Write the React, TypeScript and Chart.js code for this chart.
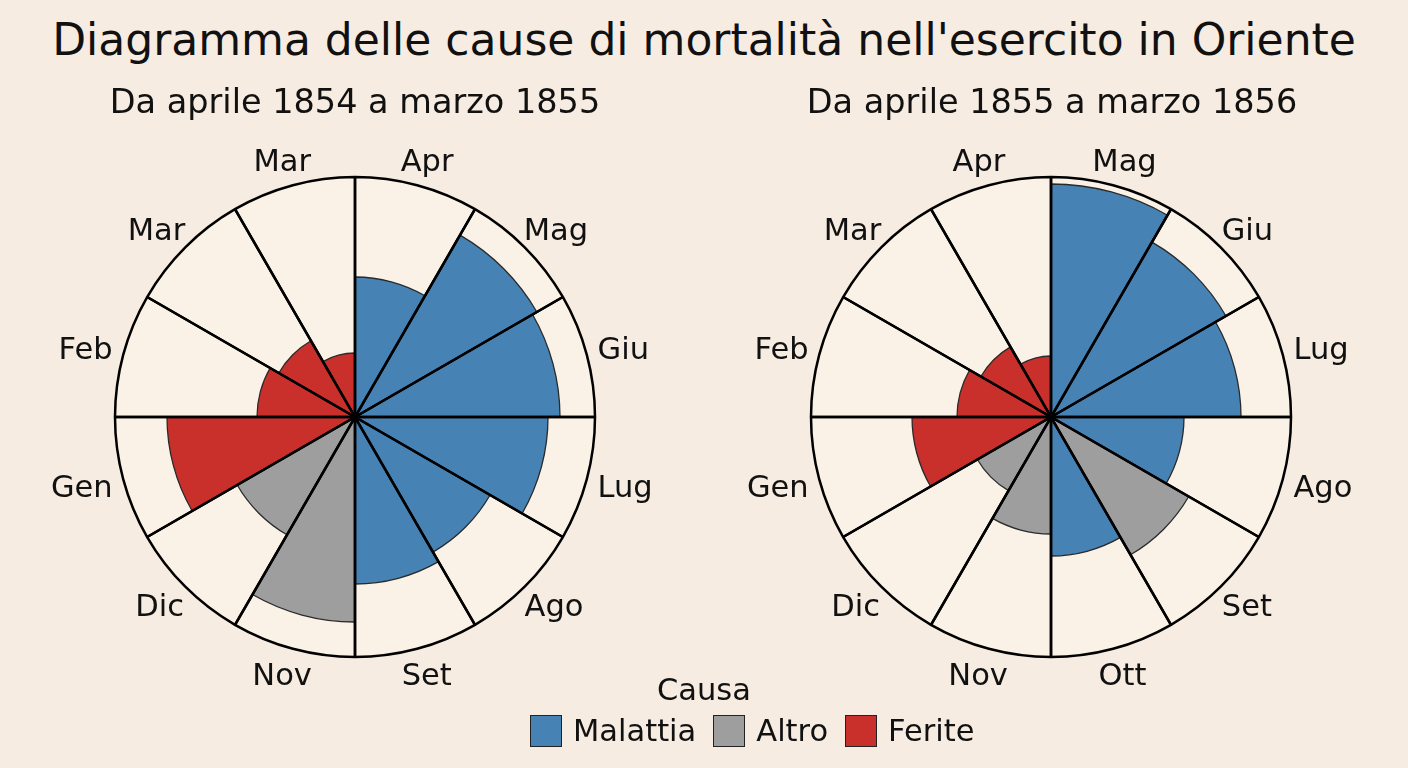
import React, { useEffect, useRef } from "react";
import { Chart, registerables } from "chart.js";

Chart.register(...registerables);

// Outer radius of every wedge (value at the rim of each rose)
const scaleMax = 240;

// Apr 1854 – Mar 1855
const months1854 = ["Apr", "Mag", "Giu", "Lug", "Ago", "Set", "Nov", "Dic", "Gen", "Feb", "Mar", "Mar"];
const values1854 = [140, 210, 205, 193, 156, 167, 205, 136, 188, 98, 88, 64];
const causes1854 = ["Malattia", "Malattia", "Malattia", "Malattia", "Malattia", "Malattia", "Altro", "Altro", "Ferite", "Ferite", "Ferite", "Ferite"];

// Apr 1855 – Mar 1856
const months1855 = ["Mag", "Giu", "Lug", "Ago", "Set", "Ott", "Nov", "Dic", "Gen", "Feb", "Mar", "Apr"];
const values1855 = [233, 202, 190, 133, 159, 139, 117, 85, 139, 94, 81, 61];
const causes1855 = ["Malattia", "Malattia", "Malattia", "Malattia", "Altro", "Malattia", "Altro", "Altro", "Ferite", "Ferite", "Ferite", "Ferite"];

const causeNames = ["Malattia", "Altro", "Ferite"];
const causeColors: Record<string, string> = {
  Malattia: "#4682b4",
  Altro: "#9e9e9e",
  Ferite: "#c9302c",
};

const FONT = '"DejaVu Sans", "Liberation Sans", sans-serif';
const BG = "#f7ece1";
const WEDGE_FILL = "#faf1e7";
const CANVAS_SIZE = 680;
const PAD = 100;
const LABEL_SIZE = 30.5;
const LABEL_GAP = 12;

// Month names placed beside the rim, centred on each wedge's mid-angle
const centredMonthLabels = {
  id: "centredMonthLabels",
  afterDatasetsDraw(chart: any) {
    const scale = chart.scales.r;
    const labels: string[] = chart.data.labels;
    const n = labels.length;
    const ctx = chart.ctx;
    ctx.save();
    ctx.font = `${LABEL_SIZE}px ${FONT}`;
    ctx.fillStyle = "#111";
    ctx.textAlign = "center";
    ctx.textBaseline = "alphabetic";
    const half = Math.PI / n;
    const capHalf = (0.729 * LABEL_SIZE) / 2;
    labels.forEach((lab, i) => {
      const theta = scale.getIndexAngle(i) + half;
      const anchor = scale.getPointPosition(i, scale.drawingArea + LABEL_GAP, half);
      const halfW = ctx.measureText(lab).width / 2;
      const cx = anchor.x + Math.sin(theta) * halfW;
      const cy = anchor.y - Math.cos(theta) * 14;
      ctx.fillText(lab, cx, cy + capHalf);
    });
    ctx.restore();
  },
};

function Rose({ months, values, causes, left }: { months: string[]; values: number[]; causes: string[]; left: number }) {
  const ref = useRef<HTMLCanvasElement>(null);
  useEffect(() => {
    const canvas = ref.current!;
    const chart = new Chart(canvas, {
      type: "polarArea",
      data: {
        labels: months,
        datasets: [
          {
            // black wedge outlines on top
            data: months.map(() => scaleMax),
            backgroundColor: "rgba(0,0,0,0)",
            borderColor: "#000",
            borderWidth: 2.5,
            order: 0,
          },
          {
            data: values,
            backgroundColor: causes.map((c) => causeColors[c]),
            borderColor: "#2a2a2a",
            borderWidth: 1.3,
            order: 1,
          },
          {
            // pale wedge fill underneath
            data: months.map(() => scaleMax),
            backgroundColor: WEDGE_FILL,
            borderWidth: 0,
            order: 2,
          },
        ],
      },
      options: {
        responsive: false,
        animation: false,
        events: [],
        layout: { padding: PAD },
        scales: {
          r: {
            min: 0,
            max: scaleMax,
            startAngle: 0,
            ticks: { display: false },
            grid: { display: false },
            angleLines: { display: false },
            pointLabels: { display: false },
          },
        },
        plugins: {
          legend: { display: false },
          tooltip: { enabled: false },
          title: { display: false },
        },
      },
      plugins: [centredMonthLabels],
    });
    return () => chart.destroy();
  }, []);
  return (
    <canvas
      ref={ref}
      width={CANVAS_SIZE}
      height={CANVAS_SIZE}
      style={{ position: "absolute", left, top: 77, width: CANVAS_SIZE, height: CANVAS_SIZE }}
    />
  );
}

export default function App() {
  return (
    <div style={{ position: "fixed", left: 0, top: 0, width: 1408, height: 768, background: BG, fontFamily: FONT, color: "#111", overflow: "hidden" }}>
      <Rose months={months1854} values={values1854} causes={causes1854} left={355 - CANVAS_SIZE / 2} />
      <Rose months={months1855} values={values1855} causes={causes1855} left={1051 - CANVAS_SIZE / 2} />
      <div style={{ position: "absolute", left: 0, width: 1408, top: 14, fontSize: 44, lineHeight: "52px", textAlign: "center", whiteSpace: "nowrap" }}>
        Diagramma delle cause di mortalità nell'esercito in Oriente
      </div>
      <div style={{ position: "absolute", left: 355 - 300, width: 600, top: 82, fontSize: 33.5, lineHeight: "40px", textAlign: "center", whiteSpace: "nowrap" }}>
        Da aprile 1854 a marzo 1855
      </div>
      <div style={{ position: "absolute", left: 1052 - 300, width: 600, top: 82, fontSize: 33.5, lineHeight: "40px", textAlign: "center", whiteSpace: "nowrap" }}>
        Da aprile 1855 a marzo 1856
      </div>
      <div style={{ position: "absolute", left: 604, width: 200, top: 670, textAlign: "center", fontSize: 30.5, lineHeight: "40px" }}>
        Causa
      </div>
      <div style={{ position: "absolute", left: 530, top: 711, display: "flex", alignItems: "center" }}>
        {causeNames.map((c) => (
          <div key={c} style={{ display: "flex", alignItems: "center", marginRight: c === "Ferite" ? 0 : 17 }}>
            <span style={{ display: "inline-block", width: 30, height: 30, background: causeColors[c], border: "1.5px solid #222", marginRight: 11 }} />
            <span style={{ fontSize: 30.5, lineHeight: "40px", whiteSpace: "nowrap" }}>{c}</span>
          </div>
        ))}
      </div>
    </div>
  );
}
